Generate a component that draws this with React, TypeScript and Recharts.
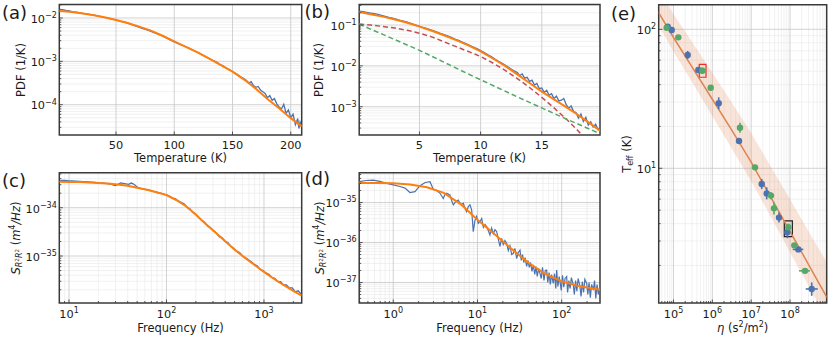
import React from "react";
import {
  ComposedChart,
  Line,
  Area,
  Scatter,
  XAxis,
  YAxis,
  CartesianGrid,
  ReferenceArea,
  ErrorBar,
} from "recharts";

const W = 830;
const H = 339;
const FONT = "'DejaVu Sans', 'Liberation Sans', sans-serif";
const TEXT = "#1a1a1a";
const BLUE = "#4c72b0";
const ORANGE = "#ff7f0e";
const RED = "#c44e52";
const GREEN = "#55a868";
const FIT_E = "#dd8452";

// ---------------- Panel (a): PDF vs temperature (log10 of PDF) ----------------
const aBlueT = [1.5, 4, 7, 10, 13, 16, 19, 22, 25, 28, 31, 34, 37, 40, 43, 46, 49, 52, 55, 58, 61, 64, 67, 70, 73, 76, 79, 82, 85, 88, 91, 94, 97, 100, 103, 106, 109, 112, 115, 118, 121, 124, 127, 130, 133, 136, 139, 142, 145, 148, 151, 154, 157, 160, 162, 164, 166, 168, 170, 172, 174, 176, 178, 180, 182, 184, 186, 188, 190, 192, 194, 196, 198, 200, 202, 204, 206, 207, 208, 209.4];
const aBlueLogPdf = [-1.8, -1.81, -1.825, -1.838, -1.858, -1.868, -1.882, -1.896, -1.908, -1.922, -1.936, -1.951, -1.966, -1.984, -2.0, -2.02, -2.04, -2.062, -2.083, -2.102, -2.132, -2.16, -2.185, -2.214, -2.243, -2.268, -2.298, -2.33, -2.362, -2.395, -2.43, -2.47, -2.51, -2.55, -2.588, -2.62, -2.652, -2.69, -2.73, -2.768, -2.806, -2.85, -2.892, -2.935, -2.975, -3.012, -3.07, -3.105, -3.165, -3.2, -3.252, -3.3, -3.36, -3.4, -3.44, -3.5, -3.47, -3.56, -3.6, -3.58, -3.66, -3.7, -3.74, -3.84, -3.79, -3.9, -3.86, -3.98, -4.05, -4.1, -3.99, -4.2, -4.12, -4.3, -4.22, -4.46, -4.32, -4.55, -4.4, -4.5];
const aFitT = [1.3, 10, 20, 30, 40, 50, 60, 70, 80, 90, 100, 110, 120, 130, 140, 150, 160, 170, 180, 190, 200, 209.4];
const aFitLogPdf = [-1.84, -1.855, -1.89, -1.93, -1.985, -2.046, -2.115, -2.2, -2.29, -2.41, -2.54, -2.665, -2.795, -2.935, -3.087, -3.238, -3.42, -3.63, -3.87, -4.08, -4.31, -4.5];

// ---------------- Panel (b): PDF vs temperature, two components ----------------
const bBlueT = [0.1, 0.4, 0.7, 1.0, 1.3, 1.6, 1.9, 2.2, 2.5, 2.8, 3.1, 3.4, 3.7, 4.0, 4.3, 4.6, 4.9, 5.2, 5.5, 5.8, 6.1, 6.4, 6.7, 7.0, 7.3, 7.6, 7.9, 8.2, 8.5, 8.8, 9.1, 9.4, 9.7, 10.0, 10.3, 10.6, 10.9, 11.2, 11.5, 11.8, 12.1, 12.4, 12.7, 13.0, 13.2, 13.4, 13.6, 13.8, 14.0, 14.2, 14.4, 14.6, 14.8, 15.0, 15.2, 15.4, 15.6, 15.8, 16.0, 16.2, 16.4, 16.6, 16.8, 17.0, 17.2, 17.4, 17.6, 17.8, 18.0, 18.2, 18.4, 18.6, 18.8, 19.0, 19.2, 19.4, 19.6, 19.76];
const bBlueLogPdf = [-0.66, -0.672, -0.69, -0.708, -0.724, -0.742, -0.766, -0.788, -0.812, -0.83, -0.858, -0.884, -0.908, -0.93, -0.958, -0.988, -1.018, -1.05, -1.078, -1.108, -1.138, -1.17, -1.202, -1.235, -1.268, -1.3, -1.342, -1.378, -1.418, -1.455, -1.498, -1.538, -1.58, -1.625, -1.672, -1.728, -1.776, -1.838, -1.895, -1.945, -2.0, -2.06, -2.118, -2.165, -2.24, -2.2, -2.3, -2.28, -2.38, -2.35, -2.47, -2.43, -2.56, -2.54, -2.65, -2.6, -2.72, -2.68, -2.8, -2.74, -2.86, -2.84, -2.8, -2.95, -3.04, -2.98, -3.12, -3.14, -3.28, -3.18, -3.36, -3.26, -3.45, -3.37, -3.5, -3.43, -3.56, -3.5];
const bFitT = [0.07, 1, 2, 3, 4, 5, 6, 7, 8, 9, 10, 11, 12, 13, 14, 15, 16, 17, 18, 19, 19.76];
const bFitLogPdf = [-0.68, -0.735, -0.795, -0.865, -0.945, -1.04, -1.14, -1.25, -1.37, -1.5, -1.645, -1.82, -2.0, -2.21, -2.42, -2.63, -2.82, -3.01, -3.21, -3.42, -3.59];
const bRedT = [0.07, 1, 2, 3, 4, 5, 6, 7, 8, 9, 10, 11, 12, 13, 14, 15, 16, 17, 18, 18.6];
const bRedLogPdf = [-0.975, -1.0, -1.035, -1.075, -1.13, -1.2, -1.29, -1.41, -1.53, -1.65, -1.77, -1.93, -2.11, -2.31, -2.53, -2.77, -3.03, -3.3, -3.6, -3.8];
const bGreenT = [0.07, 1, 2, 3, 4, 5, 6, 7, 8, 9, 10, 11, 12, 13, 14, 15, 16, 17, 18, 19, 19.76];
const bGreenLogPdf = [-0.975, -1.1, -1.23, -1.36, -1.49, -1.62, -1.765, -1.91, -2.055, -2.2, -2.34, -2.48, -2.62, -2.76, -2.895, -3.03, -3.165, -3.3, -3.43, -3.56, -3.66];

// ---------------- Panel (c): spectrum (log10 f, log10 S) ----------------
const cBlueLogF = [0.91, 0.95, 0.99, 1.03, 1.07, 1.11, 1.15, 1.19, 1.23, 1.27, 1.31, 1.35, 1.39, 1.43, 1.47, 1.5, 1.53, 1.57, 1.61, 1.64, 1.67, 1.7, 1.73, 1.76, 1.79, 1.82, 1.85, 1.88, 1.91, 1.94, 1.97, 2.0, 2.03, 2.06, 2.09, 2.12, 2.15, 2.18, 2.21, 2.24, 2.27, 2.3, 2.33, 2.36, 2.39, 2.42, 2.45, 2.48, 2.51, 2.54, 2.57, 2.6, 2.63, 2.66, 2.69, 2.72, 2.75, 2.78, 2.81, 2.84, 2.87, 2.9, 2.93, 2.96, 2.99, 3.02, 3.05, 3.08, 3.11, 3.14, 3.17, 3.2, 3.23, 3.26, 3.29, 3.32, 3.35, 3.387];
const cBlueLogS = [-33.435, -33.432, -33.44, -33.445, -33.45, -33.455, -33.46, -33.465, -33.47, -33.478, -33.49, -33.49, -33.5, -33.51, -33.54, -33.52, -33.485, -33.5, -33.515, -33.49, -33.52, -33.575, -33.6, -33.61, -33.625, -33.63, -33.66, -33.665, -33.69, -33.7, -33.72, -33.735, -33.76, -33.8, -33.81, -33.86, -33.89, -33.92, -33.99, -34.02, -34.1, -34.13, -34.2, -34.26, -34.3, -34.38, -34.41, -34.48, -34.52, -34.6, -34.62, -34.7, -34.72, -34.8, -34.84, -34.9, -34.93, -35.0, -35.03, -35.08, -35.12, -35.17, -35.2, -35.28, -35.3, -35.35, -35.38, -35.44, -35.46, -35.53, -35.53, -35.6, -35.6, -35.66, -35.66, -35.74, -35.72, -35.8];
const cFitLogF = [0.9, 1.0, 1.1, 1.2, 1.3, 1.4, 1.5, 1.6, 1.7, 1.8, 1.9, 2.0, 2.1, 2.2, 2.3, 2.4, 2.5, 2.6, 2.7, 2.8, 2.9, 3.0, 3.1, 3.2, 3.3, 3.387];
const cFitLogS = [-33.46, -33.465, -33.47, -33.478, -33.488, -33.5, -33.518, -33.545, -33.585, -33.63, -33.68, -33.74, -33.84, -33.97, -34.14, -34.33, -34.51, -34.69, -34.87, -35.03, -35.18, -35.33, -35.47, -35.6, -35.72, -35.82];

// ---------------- Panel (d): spectrum (log10 f, log10 S) ----------------
const dBlueLogF = [-0.404, -0.32, -0.238, -0.16, -0.078, 0.0, 0.08, 0.14, 0.198, 0.258, 0.317, 0.38, 0.436, 0.475, 0.515, 0.555, 0.594, 0.614, 0.634, 0.673, 0.693, 0.713, 0.742, 0.772, 0.802, 0.832, 0.852, 0.871, 0.891, 0.911, 0.931, 0.95, 0.97, 0.99, 1.01, 1.03, 1.05, 1.07, 1.09, 1.109, 1.128, 1.148, 1.168, 1.188, 1.208, 1.228, 1.248, 1.267, 1.287, 1.306, 1.326, 1.346, 1.366, 1.386, 1.406, 1.426, 1.445, 1.465, 1.485, 1.505, 1.52, 1.535, 1.55, 1.565, 1.584, 1.6, 1.615, 1.63, 1.647, 1.663, 1.68, 1.695, 1.71, 1.726, 1.742, 1.757, 1.772, 1.79, 1.805, 1.821, 1.835, 1.85, 1.865, 1.88, 1.9, 1.915, 1.93, 1.94, 1.955, 1.97, 1.98, 1.995, 2.01, 2.025, 2.04, 2.059, 2.07, 2.085, 2.1, 2.115, 2.138, 2.15, 2.165, 2.18, 2.195, 2.217, 2.23, 2.245, 2.26, 2.275, 2.297, 2.31, 2.325, 2.34, 2.355, 2.376, 2.39, 2.405, 2.42, 2.435, 2.455];
const dBlueLogS = [-34.48, -34.45, -34.44, -34.47, -34.52, -34.56, -34.6, -34.64, -34.75, -34.73, -34.58, -34.5, -34.48, -34.67, -34.7, -34.77, -34.9, -34.8, -34.77, -34.81, -34.95, -35.06, -34.98, -34.94, -35.05, -35.02, -35.15, -35.23, -35.1, -35.06, -35.19, -35.73, -35.45, -35.35, -35.52, -35.48, -35.4, -35.62, -35.55, -35.6, -35.7, -35.81, -35.64, -35.78, -35.68, -35.73, -35.92, -36.1, -35.9, -36.05, -35.95, -36.02, -36.2, -36.08, -36.3, -36.27, -36.15, -36.4, -36.25, -36.19, -36.45, -36.3, -36.5, -36.38, -36.6, -36.45, -36.62, -36.5, -36.72, -36.56, -36.8, -36.6, -36.85, -36.65, -36.77, -36.9, -36.62, -36.95, -36.7, -36.69, -37.0, -36.75, -37.05, -36.8, -37.02, -36.78, -37.15, -36.69, -37.1, -36.85, -36.98, -37.2, -36.82, -37.12, -36.9, -36.85, -37.25, -36.95, -37.15, -36.88, -37.06, -37.3, -36.95, -37.22, -36.9, -37.1, -37.35, -36.98, -37.25, -36.92, -37.02, -37.3, -37.0, -37.38, -37.05, -37.19, -36.95, -37.4, -37.05, -37.3, -37.1];
const dFitLogF = [-0.404, -0.2, 0, 0.2, 0.4, 0.6, 0.8, 1.0, 1.2, 1.4, 1.6, 1.8, 2.0, 2.2, 2.455];
const dFitLogS = [-34.51, -34.515, -34.52, -34.55, -34.62, -34.76, -35.04, -35.43, -35.79, -36.15, -36.5, -36.78, -36.97, -37.09, -37.18];

// ---------------- Panel (e): T_eff vs eta ----------------
const eLineEta = [4e4, 1e5, 3.16e5, 1e6, 3.16e6, 1e7, 3.16e7, 1e8, 3.16e8, 8.9e8];
const eLineT = [134, 87.3, 52.4, 31.4, 18.8, 11.07, 6.24, 3.52, 1.98, 1.18];
const eBandLo = [109, 69.3, 40.7, 23.8, 13.9, 8.11, 4.52, 2.49, 1.386, 0.817];
const eBandHi = [193.6, 129.1, 79.3, 48.6, 29.8, 17.96, 10.36, 5.98, 3.44, 2.1];

const eBlueEta = [7.1e4, 9.0e4, 2.32e5, 4.36e5, 1.46e6, 4.87e6, 1.87e7, 2.51e7, 5.21e7, 8.53e7, 1.64e8, 3.62e8];
const eBlueT = [104.4, 98.9, 65.3, 50.9, 29.4, 15.7, 7.71, 6.6, 4.42, 3.47, 2.61, 1.355];
const eBlueTLo = [101.5, 98.9, 61.1, 50.9, 26.6, 15.7, 7.1, 5.98, 4.07, 3.14, 2.61, 1.21];
const eBlueTHi = [107.5, 98.9, 69.8, 50.9, 32.4, 15.7, 8.37, 7.29, 4.8, 3.83, 2.61, 1.51];
const eBlueEtaLo = [7.1e4, 9.0e4, 2.32e5, 4.36e5, 1.46e6, 4.87e6, 1.87e7, 2.51e7, 5.21e7, 8.53e7, 1.175e8, 2.54e8];
const eBlueEtaHi = [7.1e4, 9.0e4, 2.32e5, 4.36e5, 1.46e6, 4.87e6, 1.87e7, 2.51e7, 5.21e7, 8.53e7, 2.2e8, 5.18e8];

const eGreenEta = [6.68e4, 1.33e5, 5.52e5, 9.08e5, 5.16e6, 1.256e7, 3.24e7, 3.87e7, 9.06e7, 1.29e8, 2.44e8];
const eGreenT = [102.7, 87.5, 50.3, 38.0, 19.6, 10.16, 6.36, 5.15, 3.77, 2.79, 1.83];
const eGreenTLo = [102.7, 87.5, 47.6, 38.0, 18.0, 10.16, 5.99, 4.66, 3.55, 2.79, 1.83];
const eGreenTHi = [102.7, 87.5, 53.1, 38.0, 21.3, 10.16, 6.75, 5.69, 4.0, 2.79, 1.83];
const eGreenEtaLo = [6.68e4, 1.33e5, 5.52e5, 9.08e5, 5.16e6, 1.256e7, 3.24e7, 3.87e7, 9.06e7, 1.29e8, 1.71e8];
const eGreenEtaHi = [6.68e4, 1.33e5, 5.52e5, 9.08e5, 5.16e6, 1.256e7, 3.24e7, 3.87e7, 9.06e7, 1.29e8, 3.27e8];

const eRedBoxEta = [4.61e5, 6.87e5];
const eRedBoxT = [45.2, 56.0];
const eBlackBoxEta = [7.13e7, 1.15e8];
const eBlackBoxT = [3.22, 4.18];

// tick labels
const aXTicks = [50, 100, 150, 200];
const bXTicks = [5, 10, 15];
const aYExp = [-4, -3, -2];
const bYExp = [-3, -2, -1];
const cXExp = [1, 2, 3];
const cYExp = [-35, -34];
const dXExp = [0, 1, 2];
const dYExp = [-37, -36, -35];
const eXExp = [5, 6, 7, 8];
const eYExp = [1, 2];

// ---------------- helpers ----------------
const p10 = (v: number) => Math.pow(10, v);
const linLogY = (xs: number[], ys: number[]) => xs.map((x, i) => ({ x, y: p10(ys[i]) }));
const logLog = (xs: number[], ys: number[]) => xs.map((x, i) => ({ x: p10(x), y: p10(ys[i]) }));

type Lab = { base: string; sup?: string };
type AxisSpec = {
  domain: [number, number];
  log: boolean;
  major: number[];
  minor: number[];
  map: Map<number, Lab>;
};

function logMinors(lo: number, hi: number): number[] {
  const out: number[] = [];
  const e0 = Math.floor(Math.log10(lo));
  const e1 = Math.ceil(Math.log10(hi));
  for (let e = e0; e <= e1; e++) {
    for (let m = 2; m <= 9; m++) {
      const v = m * Math.pow(10, e);
      if (v > lo * 1.002 && v < hi * 0.998) out.push(v);
    }
  }
  return out;
}

function linAxis(domain: [number, number], ticks: number[]): AxisSpec {
  const map = new Map<number, Lab>();
  ticks.forEach((t) => map.set(t, { base: String(t) }));
  return { domain, log: false, major: ticks, minor: [], map };
}

function logAxis(domain: [number, number], exps: number[]): AxisSpec {
  const map = new Map<number, Lab>();
  const major = exps.map((e) => p10(e));
  exps.forEach((e, i) =>
    map.set(major[i], { base: "10", sup: e < 0 ? "\u2212" + Math.abs(e) : String(e) })
  );
  return { domain, log: true, major, minor: logMinors(domain[0], domain[1]), map };
}

type Rect = { x: number; y: number; w: number; h: number };

function Panel({ rect, xa, ya, children }: { rect: Rect; xa: AxisSpec; ya: AxisSpec; children: React.ReactNode }) {
  const YW = 40;
  const XH = 30;
  const margin = {
    left: rect.x - YW,
    top: rect.y,
    right: W - rect.x - rect.w,
    bottom: H - rect.y - rect.h - XH,
  };
  const xTick = (p: any) => {
    const v = p.payload.value;
    const lab = xa.map.get(v);
    return (
      <g>
        <line x1={p.x} x2={p.x} y1={p.y} y2={p.y - (lab ? 3.5 : 2)} stroke="#333" strokeWidth={0.8} />
        {lab ? (
          <text x={p.x} y={p.y + (lab.sup ? 14.5 : 13.5)} textAnchor="middle" fontFamily={FONT} fontSize={11.3} fill={TEXT}>
            {lab.base}
            {lab.sup ? (
              <tspan dy={-4.8} fontSize={8}>
                {lab.sup}
              </tspan>
            ) : null}
          </text>
        ) : null}
      </g>
    );
  };
  const yTick = (p: any) => {
    const v = p.payload.value;
    const lab = ya.map.get(v);
    return (
      <g>
        <line x1={p.x} x2={p.x + (lab ? 3.5 : 2)} y1={p.y} y2={p.y} stroke="#333" strokeWidth={0.8} />
        {lab ? (
          <text x={p.x - 2.5} y={p.y + 4.8} textAnchor="end" fontFamily={FONT} fontSize={11.3} fill={TEXT}>
            {lab.base}
            {lab.sup ? (
              <tspan dy={-4.8} fontSize={8}>
                {lab.sup}
              </tspan>
            ) : null}
          </text>
        ) : null}
      </g>
    );
  };
  return (
    <div style={{ position: "absolute", left: 0, top: 0 }}>
      <ComposedChart width={W} height={H} margin={margin}>
        <CartesianGrid
          stroke="#ebebeb"
          strokeWidth={0.7}
          horizontalValues={ya.minor}
          vertical={xa.minor.length > 0}
          verticalValues={xa.minor.length > 0 ? xa.minor : undefined}
        />
        <CartesianGrid stroke="#c6c6c6" strokeWidth={0.8} horizontalValues={ya.major} verticalValues={xa.major} />
        <XAxis
          type="number"
          dataKey="x"
          scale={xa.log ? "log" : "linear"}
          domain={xa.domain}
          allowDataOverflow
          ticks={[...xa.major, ...xa.minor]}
          interval={0}
          height={XH}
          tickSize={0}
          tickMargin={0}
          axisLine={false}
          tickLine={false}
          tick={xTick}
        />
        <YAxis
          type="number"
          dataKey="y"
          scale={ya.log ? "log" : "linear"}
          domain={ya.domain}
          allowDataOverflow
          ticks={[...ya.major, ...ya.minor]}
          interval={0}
          width={YW}
          tickSize={0}
          tickMargin={0}
          axisLine={false}
          tickLine={false}
          tick={yTick}
        />
        {children}
        <ReferenceArea
          x1={xa.domain[0]}
          x2={xa.domain[1]}
          y1={ya.domain[0]}
          y2={ya.domain[1]}
          fill="none"
          stroke="#3a3a3a"
          strokeWidth={1.5}
          ifOverflow="visible"
        />
      </ComposedChart>
    </div>
  );
}

const dot = (color: string) => (p: any) =>
  p.cx == null ? <g /> : <circle cx={p.cx} cy={p.cy} r={3.2} fill={color} />;

export default function App() {
  const aBlue = linLogY(aBlueT, aBlueLogPdf);
  const aFit = linLogY(aFitT, aFitLogPdf);
  const bBlue = linLogY(bBlueT, bBlueLogPdf);
  const bFit = linLogY(bFitT, bFitLogPdf);
  const bRed = linLogY(bRedT, bRedLogPdf);
  const bGreen = linLogY(bGreenT, bGreenLogPdf);
  const cBlue = logLog(cBlueLogF, cBlueLogS);
  const cFit = logLog(cFitLogF, cFitLogS);
  const dBlue = logLog(dBlueLogF, dBlueLogS);
  const dFit = logLog(dFitLogF, dFitLogS);
  const eBand = eLineEta.map((x, i) => ({ x, band: [eBandLo[i], eBandHi[i]] }));
  const eLine = eLineEta.map((x, i) => ({ x, y: eLineT[i] }));
  const eBlue = eBlueEta.map((x, i) => ({
    x,
    y: eBlueT[i],
    ey: [eBlueT[i] - eBlueTLo[i], eBlueTHi[i] - eBlueT[i]],
    ex: [x - eBlueEtaLo[i], eBlueEtaHi[i] - x],
  }));
  const eGreen = eGreenEta.map((x, i) => ({
    x,
    y: eGreenT[i],
    ey: [eGreenT[i] - eGreenTLo[i], eGreenTHi[i] - eGreenT[i]],
    ex: [x - eGreenEtaLo[i], eGreenEtaHi[i] - x],
  }));

  const axA_x = linAxis([1.32, 209.4], aXTicks);
  const axA_y = logAxis([2.0e-5, 2.047e-2], aYExp);
  const axB_x = linAxis([0.074, 19.76], bXTicks);
  const axB_y = logAxis([2.03e-4, 0.3177], bYExp);
  const axC_x = logAxis([7.95, 2438], cXExp);
  const axC_y = logAxis([1.064e-36, 5.31e-34], cYExp);
  const axD_x = logAxis([0.394, 285], dXExp);
  const axD_y = logAxis([3.07e-38, 5.56e-35], dYExp);
  const axE_x = logAxis([4.16e4, 8.81e8], eXExp);
  const axE_y = logAxis([1.074, 150.3], eYExp);

  const line = (data: any[], color: string, width: number, dash?: string) => (
    <Line
      data={data}
      dataKey="y"
      type="linear"
      stroke={color}
      strokeWidth={width}
      strokeDasharray={dash}
      dot={false}
      activeDot={false}
      isAnimationActive={false}
    />
  );

  const textProps = { fontFamily: FONT, fill: TEXT };

  return (
    <div style={{ position: "absolute", left: 0, top: 0, width: W, height: H, background: "#fff", overflow: "hidden" }}>
      <Panel rect={{ x: 59.3, y: 4.5, w: 242.4, h: 130.5 }} xa={axA_x} ya={axA_y}>
        {line(aBlue, BLUE, 1.3)}
        {line(aFit, ORANGE, 2)}
      </Panel>
      <Panel rect={{ x: 359.2, y: 4.5, w: 240.8, h: 130.5 }} xa={axB_x} ya={axB_y}>
        {line(bBlue, BLUE, 1.3)}
        {line(bRed, RED, 1.5, "5 3")}
        {line(bGreen, GREEN, 1.5, "5 3")}
        {line(bFit, ORANGE, 2)}
      </Panel>
      <Panel rect={{ x: 59.3, y: 172.7, w: 242.4, h: 130.3 }} xa={axC_x} ya={axC_y}>
        {line(cBlue, BLUE, 1.3)}
        {line(cFit, ORANGE, 2)}
      </Panel>
      <Panel rect={{ x: 359.2, y: 172.7, w: 240.8, h: 130.3 }} xa={axD_x} ya={axD_y}>
        {line(dBlue, BLUE, 1.2)}
        {line(dFit, ORANGE, 2)}
      </Panel>
      <Panel rect={{ x: 658.7, y: 4.7, w: 168, h: 298.3 }} xa={axE_x} ya={axE_y}>
        <Area
          data={eBand}
          dataKey="band"
          type="linear"
          stroke="none"
          fill={FIT_E}
          fillOpacity={0.22}
          isAnimationActive={false}
          activeDot={false}
        />
        {line(eLine, FIT_E, 1.5)}
        <ReferenceArea
          x1={eRedBoxEta[0]}
          x2={eRedBoxEta[1]}
          y1={eRedBoxT[0]}
          y2={eRedBoxT[1]}
          fill="none"
          stroke="#e8302a"
          strokeWidth={1.2}
        />
        <ReferenceArea
          x1={eBlackBoxEta[0]}
          x2={eBlackBoxEta[1]}
          y1={eBlackBoxT[0]}
          y2={eBlackBoxT[1]}
          fill="none"
          stroke="#222"
          strokeWidth={1.2}
        />
        <Scatter data={eBlue} dataKey="y" fill={BLUE} shape={dot(BLUE)} isAnimationActive={false}>
          <ErrorBar dataKey="ey" direction="y" width={0} stroke={BLUE} strokeWidth={1.6} />
          <ErrorBar dataKey="ex" direction="x" width={0} stroke={BLUE} strokeWidth={1.6} />
        </Scatter>
        <Scatter data={eGreen} dataKey="y" fill={GREEN} shape={dot(GREEN)} isAnimationActive={false}>
          <ErrorBar dataKey="ey" direction="y" width={0} stroke={GREEN} strokeWidth={1.6} />
          <ErrorBar dataKey="ex" direction="x" width={0} stroke={GREEN} strokeWidth={1.6} />
        </Scatter>
      </Panel>

      <svg width={W} height={H} style={{ position: "absolute", left: 0, top: 0, pointerEvents: "none" }}>
        <text x={2} y={19} fontSize={18} {...textProps}>(a)</text>
        <text x={304.5} y={18} fontSize={18} {...textProps}>(b)</text>
        <text x={2} y={186.5} fontSize={18} {...textProps}>(c)</text>
        <text x={304.5} y={185} fontSize={18} {...textProps}>(d)</text>
        <text x={611} y={19.5} fontSize={18} {...textProps}>(e)</text>

        <text x={180.5} y={162} fontSize={11.5} textAnchor="middle" {...textProps}>Temperature (K)</text>
        <text x={479.6} y={162} fontSize={11.5} textAnchor="middle" {...textProps}>Temperature (K)</text>
        <text x={180.5} y={331.5} fontSize={11.5} textAnchor="middle" {...textProps}>Frequency (Hz)</text>
        <text x={479.6} y={331.5} fontSize={11.5} textAnchor="middle" {...textProps}>Frequency (Hz)</text>
        <text x={742.7} y={331.5} fontSize={11.5} textAnchor="middle" {...textProps}>
          <tspan fontStyle="italic">η</tspan>
          <tspan>{" (s"}</tspan>
          <tspan dy={-4.5} fontSize={8}>2</tspan>
          <tspan dy={4.5}>/m</tspan>
          <tspan dy={-4.5} fontSize={8}>2</tspan>
          <tspan dy={4.5}>)</tspan>
        </text>

        <text x={24.5} y={70} fontSize={11.5} textAnchor="middle" transform="rotate(-90 24.5 70)" {...textProps}>PDF (1/K)</text>
        <text x={323} y={70} fontSize={11.5} textAnchor="middle" transform="rotate(-90 323 70)" {...textProps}>PDF (1/K)</text>

        {[
          { x: 19.5, y: 238 },
          { x: 323.5, y: 238 },
        ].map((p, i) => (
          <text key={i} x={p.x} y={p.y} fontSize={11.5} textAnchor="middle" transform={`rotate(-90 ${p.x} ${p.y})`} {...textProps}>
            <tspan fontStyle="italic">S</tspan>
            <tspan fontStyle="italic" fontSize={8} dy={2.5}>R</tspan>
            <tspan fontSize={5.6} dy={-3}>2</tspan>
            <tspan fontStyle="italic" fontSize={8} dy={3}>R</tspan>
            <tspan fontSize={5.6} dy={-3}>2</tspan>
            <tspan dy={0.5}>{" ("}</tspan>
            <tspan fontStyle="italic">m</tspan>
            <tspan dy={-4.5} fontSize={8}>4</tspan>
            <tspan dy={4.5} fontStyle="italic">/Hz</tspan>
            <tspan>)</tspan>
          </text>
        ))}

        <text x={630.5} y={154} fontSize={11.5} textAnchor="middle" transform="rotate(-90 630.5 154)" {...textProps}>
          <tspan>T</tspan>
          <tspan fontSize={8} dy={2.5}>eff</tspan>
          <tspan dy={-2.5}>{" (K)"}</tspan>
        </text>
      </svg>
    </div>
  );
}
